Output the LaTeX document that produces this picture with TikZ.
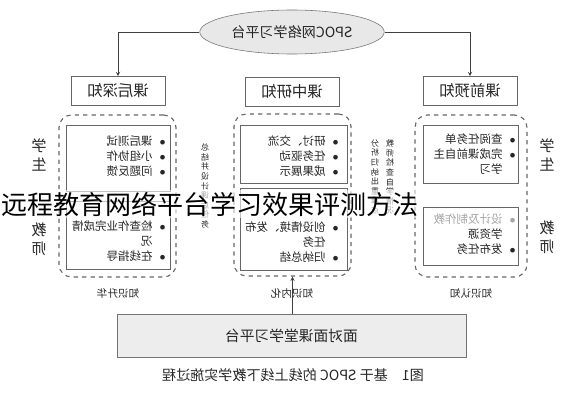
\documentclass[tikz,border=0pt]{standalone}
\usepackage{fontspec}
\usepackage{graphicx}
\usetikzlibrary{shapes.geometric}
\setmainfont{Noto Sans CJK SC}
\newfontfamily\markfont{Noto Sans CJK SC}
\newcommand{\mirr}[1]{\reflectbox{#1}}

\tikzstyle{platform} = [ellipse, minimum width=3.75cm, minimum height=1.1cm, draw=black!55, fill=black!9, font=\fontsize{10}{12}\selectfont]
\tikzstyle{stage} = [rectangle, minimum width=2.35cm, minimum height=0.725cm, draw=black!60, font=\fontsize{11}{13}\selectfont]
\tikzstyle{zone} = [rectangle, rounded corners=9pt, dashed, thick, draw=black!60]
\tikzstyle{panel} = [rectangle, draw=black!60]
\tikzstyle{items} = [anchor=north east, inner sep=0pt, font=\fontsize{8.2}{10.6}\selectfont]
\tikzstyle{vert} = [inner sep=0pt, font=\fontsize{5.8}{6.6}\selectfont]
\tikzstyle{role} = [inner sep=0pt, font=\fontsize{10.7}{14}\selectfont]
\tikzstyle{phase} = [inner sep=1pt, font=\fontsize{7.5}{9}\selectfont]
\tikzstyle{arrow} = [->,>=stealth, black!75]

\begin{document}
\begin{tikzpicture}[x=0.025cm, y=-0.025cm, text=black!85]
\useasboundingbox (0,0) rectangle (585,400);

\node (spoc) [platform] at (292,32) {\mirr{SPOC网络学习平台}};
\node (hou) [stage] at (118,91) {\mirr{课后深知}};
\node (zhong) [stage] at (292,92) {\mirr{课中研知}};
\node (qian) [stage] at (470,91) {\mirr{课前预知}};

\draw [arrow] (spoc.west) -| (hou.north);
\draw [arrow] (spoc.east) -| (qian.north);

% dashed zones
\node (houzone) [zone, minimum width=2.925cm, minimum height=4.05cm] at (117.5,196) {};
\node (zhongzone) [zone, minimum width=2.925cm, minimum height=4.05cm] at (292.5,195) {};
\node (qianzone) [zone, minimum width=2.8cm, minimum height=4.05cm] at (471,196) {};

\node (houup) [panel, minimum width=2.6cm, minimum height=1.65cm] at (118,158) {};
\node (houdown) [panel, minimum width=2.6cm, minimum height=1.7cm] at (118,235) {};
\node (zhongup) [panel, minimum width=2.675cm, minimum height=1.45cm] at (293.5,154) {};
\node (zhongdown) [panel, minimum width=2.675cm, minimum height=2.05cm] at (293.5,229) {};
\node (qianup) [panel, minimum width=2.375cm, minimum height=1.45cm] at (470.5,154) {};
\node (qiandown) [panel, minimum width=2.375cm, minimum height=1.45cm] at (470.5,236) {};

% lists
\node (houlist) [items] at (166,135) {\mirr{\begin{tabular}{@{}l@{\hspace{5pt}}l@{}}
$\bullet$ & 课后测试\\ $\bullet$ & 小组协作\\ $\bullet$ & 问题反馈\end{tabular}}};
\node (houtask) [items] at (166,220) {\mirr{\begin{tabular}{@{}l@{\hspace{5pt}}l@{}}
$\bullet$ & 检查作业完成情\\ & 况\\ $\bullet$ & 在线指导\end{tabular}}};
\node (zhonglist) [items] at (339,135) {\mirr{\begin{tabular}{@{}l@{\hspace{5pt}}l@{}}
$\bullet$ & 研讨、交流\\ $\bullet$ & 任务驱动\\ $\bullet$ & 成果展示\end{tabular}}};
\node (zhongtask) [items] at (339,221) {\mirr{\begin{tabular}{@{}l@{\hspace{5pt}}l@{}}
$\bullet$ & 创设情境、发布\\ & 任务\\ $\bullet$ & 归纳总结\end{tabular}}};
\node (qianlist) [items] at (516,133) {\mirr{\begin{tabular}{@{}l@{\hspace{5pt}}l@{}}
$\bullet$ & 查阅任务单\\ $\bullet$ & 完成课前自主\\ & 学习\end{tabular}}};
\node (qiantask) [items] at (516,213) {\mirr{\begin{tabular}{@{}l@{\hspace{5pt}}l@{}}
\textcolor{black!35}{$\bullet$} & \textcolor{black!35}{设计及制作教}\\ & 学资源\\ $\bullet$ & 发布任务\end{tabular}}};

% vertical notes
\node (summary) [vert] at (205,187) {\mirr{\begin{tabular}{@{}c@{}}总\\结\\并\\设\\计\\课\\后\\任\\务\end{tabular}}};
\node (check) [vert] at (390,178) {\mirr{\begin{tabular}{@{}c@{}}教\\师\\检\\查\\自\\学\\情\\况\end{tabular}}};
\node (analyse) [vert] at (375,178) {\mirr{\begin{tabular}{@{}c@{}}分\\析\\归\\纳\\出\\重\\难\\点\end{tabular}}};

% roles
\node (stuleft) [role] at (39,157) {\mirr{\begin{tabular}{@{}c@{}}学\\生\end{tabular}}};
\node (tealeft) [role] at (39,241) {\mirr{\begin{tabular}{@{}c@{}}教\\师\end{tabular}}};
\node (sturight) [role] at (547,157) {\mirr{\begin{tabular}{@{}c@{}}学\\生\end{tabular}}};
\node (tearight) [role] at (547,239) {\mirr{\begin{tabular}{@{}c@{}}教\\师\end{tabular}}};

\node (sheng) [phase] at (118,293) {\mirr{知识升华}};
\node (neihua) [phase] at (292,293) {\mirr{知识内化}};
\node (renzhi) [phase] at (471,293) {\mirr{知识认知}};

\node (face) [rectangle, draw=black!55, fill=black!7, minimum width=8.725cm, minimum height=1.075cm, font=\fontsize{10.5}{12}\selectfont] at (291.5,335.5) {\mirr{面对面课堂学习平台}};
\draw [arrow] (face.north -| zhongzone.south) -- (zhongzone.south);

\node (title) [font=\fontsize{10}{12}\selectfont] at (293,375) {\mirr{图1\quad 基于 SPOC 的线上线下教学实施过程}};

\node (mark) [fill=white, fill opacity=0.6, text opacity=1, text=black, inner sep=1pt, font=\markfont\fontsize{18.5}{20}\selectfont] at (210,204) {远程教育网络平台学习效果评测方法};
\end{tikzpicture}
\end{document}
